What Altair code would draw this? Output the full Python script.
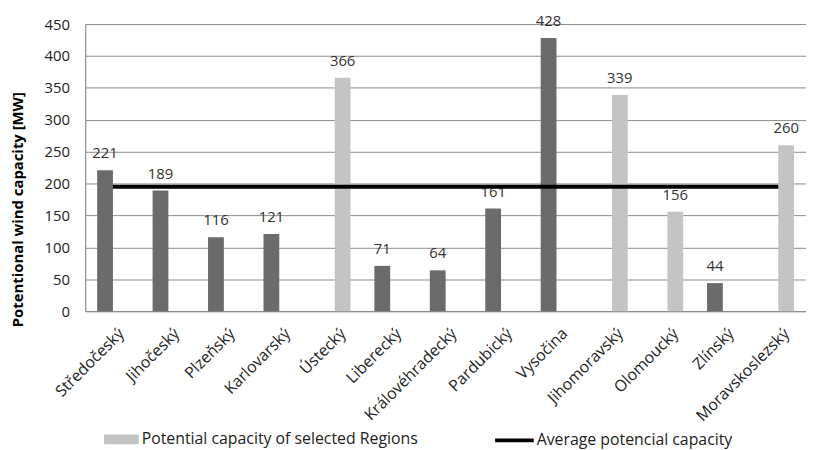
import altair as alt
import pandas as pd

regions = ["Středočeský", "Jihočeský", "Plzeňský", "Karlovarský", "Ústecký",
           "Liberecký", "Královéhradecký", "Pardubický", "Vysočina",
           "Jihomoravský", "Olomoucký", "Zlínský", "Moravskoslezský"]
values = [221, 189, 116, 121, 366, 71, 64, 161, 428, 339, 156, 44, 260]
selected = [False, False, False, False, True, False, False, False, False,
            True, True, False, True]
average = 195
y_ticks = [0, 50, 100, 150, 200, 250, 300, 350, 400, 450]

OTHER = "Other Regions"
SEL = "Potential capacity of selected Regions"
AVG = "Average potencial capacity"

df = pd.DataFrame({
    "region": regions,
    "value": values,
    "group": [SEL if s else OTHER for s in selected],
})
avg_df = pd.DataFrame({"region": regions, "value": [average] * len(regions),
                       "series": [AVG] * len(regions)})

FONT = "Open Sans"
xscale = alt.Scale(paddingInner=0.43, paddingOuter=0.215)
yscale = alt.Scale(domain=[0, 450], nice=False)
x_axis = alt.Axis(labelAngle=315, labelAlign="right", labelBaseline="top",
                  labelPadding=14, labelOffset=3, labelFont=FONT,
                  labelFontSize=16, labelColor="#222222", ticks=False,
                  domainColor="#888888", labelLimit=300)
y_axis = alt.Axis(values=y_ticks, title="Potentional wind capacity [MW]",
                  titleFont="Open Sans", titleFontWeight="bold",
                  titleFontSize=15, titleColor="#000000",
                  titleAngle=270, titleX=-68, titleY=187,
                  titleAlign="center", titleBaseline="middle",
                  labelFont=FONT, labelFontSize=15, labelColor="#222222",
                  labelPadding=16, ticks=False, grid=True, labelOverlap=False,
                  gridColor="#8c8c8c", domainColor="#888888")
x_enc = alt.X("region:N", sort=regions, scale=xscale, title=None, axis=x_axis)
y_enc = alt.Y("value:Q", scale=yscale, axis=y_axis)
xoff = alt.XOffset("group:N", scale=alt.Scale(domain=[OTHER, SEL],
                                               paddingInner=0, paddingOuter=0))

bars = alt.Chart(df).mark_bar().encode(
    x=x_enc,
    y=y_enc,
    xOffset=xoff,
    color=alt.Color("group:N",
                    scale=alt.Scale(domain=[OTHER, SEL], range=["#6b6b6b", "#c4c4c4"]),
                    legend=alt.Legend(title=None, orient="none", legendX=19, legendY=402,
                                      values=[SEL], symbolType="M-1,-0.286H1V0.286H-1Z",
                                      symbolSize=1225, symbolStrokeWidth=0,
                                      labelFont=FONT, labelFontSize=16,
                                      labelColor="#222222", labelOffset=3,
                                      labelLimit=400, padding=0)),
)

labels = alt.Chart(df).mark_text(dy=-12, baseline="alphabetic", font=FONT,
                                 fontSize=15, color="#333333").encode(
    x=x_enc,
    y=y_enc,
    xOffset=xoff,
    text=alt.Text("value:Q"),
)

line = alt.Chart(avg_df).mark_line(strokeWidth=4).encode(
    x=x_enc,
    y=y_enc,
    stroke=alt.Stroke("series:N", scale=alt.Scale(domain=[AVG], range=["#000000"]),
                      legend=alt.Legend(title=None, orient="none", legendX=412,
                                        legendY=399, symbolType="stroke",
                                        symbolSize=1521, symbolStrokeWidth=4,
                                        labelFont=FONT, labelFontSize=16,
                                        labelColor="#222222", labelOffset=1,
                                        labelLimit=400, padding=0)),
)

chart = alt.layer(bars, labels, line).properties(
    width=728, height=290,
    autosize=alt.AutoSizeParams(type="none"),
    padding={"left": 78, "top": 14, "right": 0, "bottom": 138},
).configure_view(stroke=None).configure(background="white")

chart.save("out.html", embed_options={"renderer": "svg", "actions": False})
